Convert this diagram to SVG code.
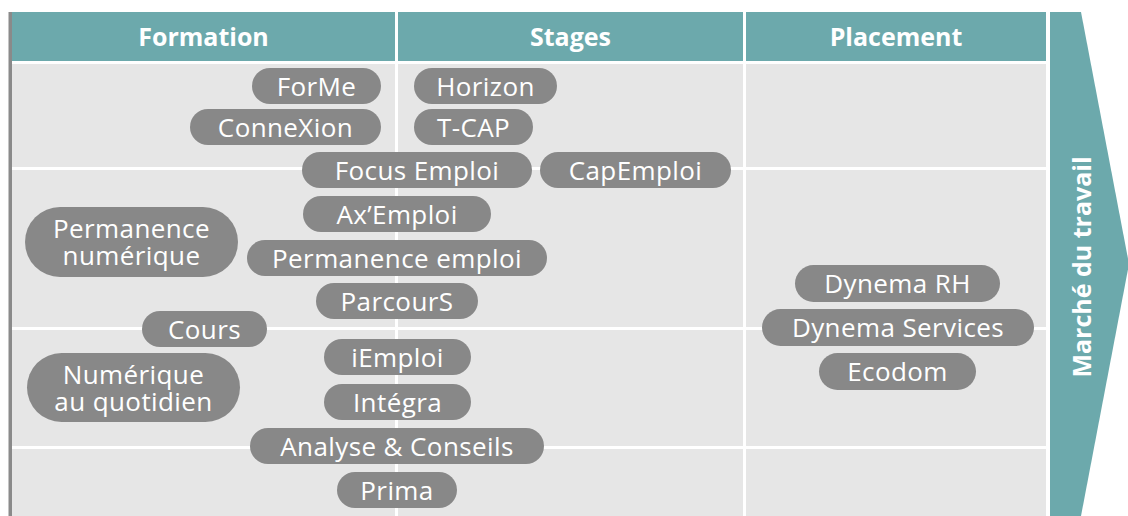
<svg xmlns="http://www.w3.org/2000/svg" width="1128" height="516" viewBox="0 0 1128 516">
<style>
.hd{fill:#6ca9ac}
.cell{fill:#e6e6e6}
.ht{font-family:"Open Sans","Liberation Sans",sans-serif;font-weight:700;font-size:25px;fill:#ffffff;text-anchor:middle}
.pill rect{fill:#888888}
.pill text{font-family:"Open Sans","Liberation Sans",sans-serif;font-size:26px;letter-spacing:0.4px;fill:#ffffff;text-anchor:middle}
</style>
<rect x="0" y="0" width="1128" height="516" fill="#ffffff"/>
<g id="grid">
<rect x="8.5" y="12" width="3.5" height="504" fill="#8a8a8a"/>
<rect class="hd" x="12" y="12" width="383" height="49"/>
<rect class="hd" x="398" y="12" width="345" height="49"/>
<rect class="hd" x="746" y="12" width="300" height="49"/>
<rect class="cell" x="12" y="64" width="383" height="103"/>
<rect class="cell" x="398" y="64" width="345" height="103"/>
<rect class="cell" x="746" y="64" width="300" height="103"/>
<rect class="cell" x="12" y="170" width="383" height="157"/>
<rect class="cell" x="398" y="170" width="345" height="157"/>
<rect class="cell" x="746" y="170" width="300" height="157"/>
<rect class="cell" x="12" y="330" width="383" height="116"/>
<rect class="cell" x="398" y="330" width="345" height="116"/>
<rect class="cell" x="746" y="330" width="300" height="116"/>
<rect class="cell" x="12" y="449" width="383" height="67"/>
<rect class="cell" x="398" y="449" width="345" height="67"/>
<rect class="cell" x="746" y="449" width="300" height="67"/>
<text class="ht" x="203.5" y="46">Formation</text>
<text class="ht" x="570.5" y="46">Stages</text>
<text class="ht" x="896" y="46">Placement</text>
</g>
<g id="marche">
<polygon class="hd" points="1050,12 1081,12 1129,264 1081,516 1050,516"/>
<text class="ht" transform="translate(1091,267) rotate(-90)">Marché du travail</text>
</g>
<g id="connectors"></g>
<g id="forme" class="pill"><rect x="252" y="68" width="129" height="36" rx="18"/><text x="316.5" y="95.5">ForMe</text></g>
<g id="connexion" class="pill"><rect x="190" y="109" width="191" height="36" rx="18"/><text x="285.5" y="136.5">ConneXion</text></g>
<g id="horizon" class="pill"><rect x="414" y="68" width="143" height="36" rx="18"/><text x="485.5" y="95.5">Horizon</text></g>
<g id="tcap" class="pill"><rect x="414" y="109" width="119" height="36" rx="18"/><text x="473.5" y="136.5">T-CAP</text></g>
<g id="focus-emploi" class="pill"><rect x="302" y="152" width="230" height="36" rx="18"/><text x="417" y="179.5">Focus Emploi</text></g>
<g id="capemploi" class="pill"><rect x="540" y="152" width="191" height="36" rx="18"/><text x="635.5" y="179.5">CapEmploi</text></g>
<g id="permanence-numerique" class="pill"><rect x="25" y="207" width="213" height="70" rx="35"/><text x="131.5" y="238">Permanence<tspan x="131.5" y="265">numérique</tspan></text></g>
<g id="axemploi" class="pill"><rect x="303" y="196" width="188" height="36" rx="18"/><text x="397" y="223.5">Ax’Emploi</text></g>
<g id="permanence-emploi" class="pill"><rect x="247" y="240" width="300" height="36" rx="18"/><text x="397" y="267.5">Permanence emploi</text></g>
<g id="parcours" class="pill"><rect x="316" y="283" width="162" height="36" rx="18"/><text x="397" y="310.5">ParcourS</text></g>
<g id="cours" class="pill"><rect x="142" y="311" width="125" height="36" rx="18"/><text x="204.5" y="338.5">Cours</text></g>
<g id="numerique-quotidien" class="pill"><rect x="27" y="353" width="213" height="69" rx="34.5"/><text x="133.5" y="384">Numérique<tspan x="133.5" y="411">au quotidien</tspan></text></g>
<g id="iemploi" class="pill"><rect x="324" y="339" width="147" height="36" rx="18"/><text x="397.5" y="366.5">iEmploi</text></g>
<g id="integra" class="pill"><rect x="324" y="384" width="147" height="36" rx="18"/><text x="397.5" y="411.5">Intégra</text></g>
<g id="analyse-conseils" class="pill"><rect x="250" y="428" width="294" height="36" rx="18"/><text x="397" y="455.5">Analyse &amp; Conseils</text></g>
<g id="prima" class="pill"><rect x="337" y="472" width="120" height="36" rx="18"/><text x="397" y="499.5">Prima</text></g>
<g id="dynema-rh" class="pill"><rect x="795" y="265" width="205" height="37" rx="18.5"/><text x="897.5" y="293">Dynema RH</text></g>
<g id="dynema-services" class="pill"><rect x="762" y="309" width="272" height="37" rx="18.5"/><text x="898" y="337">Dynema Services</text></g>
<g id="ecodom" class="pill"><rect x="819" y="353" width="157" height="37" rx="18.5"/><text x="897.5" y="381">Ecodom</text></g>
</svg>
